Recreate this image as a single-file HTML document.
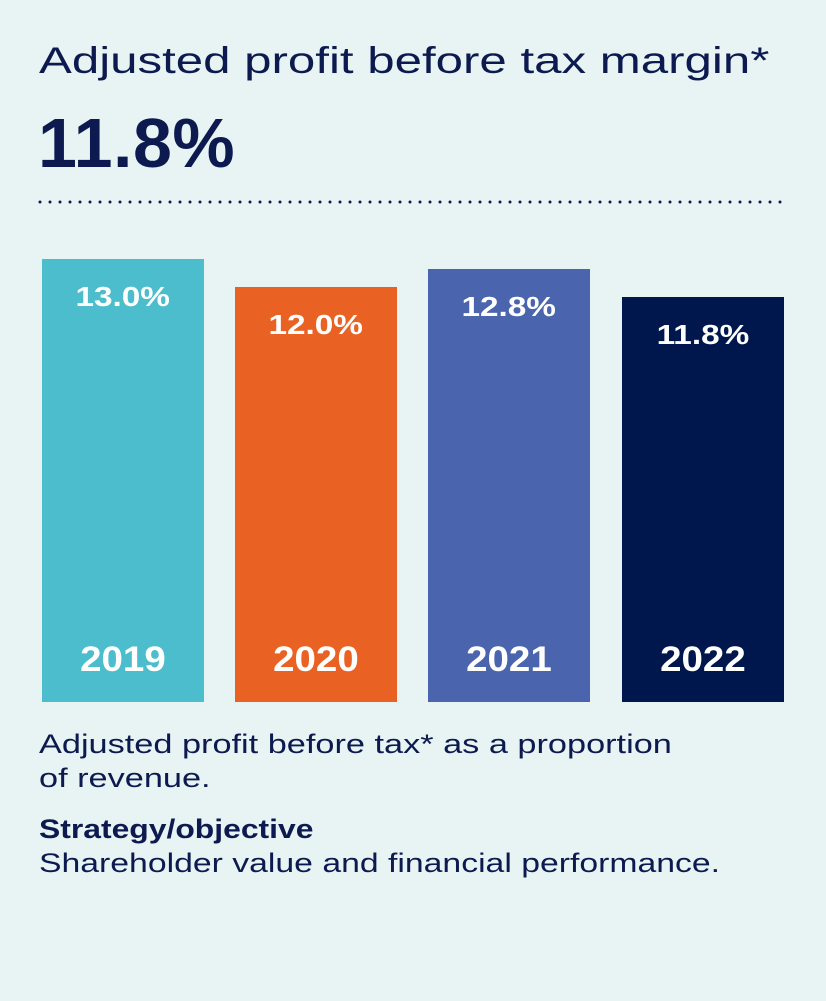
<!DOCTYPE html>
<html><head><style>
body{margin:0;width:826px;height:1001px;background:#e8f4f4;font-family:"Liberation Sans",sans-serif;color:#0d1a4f;position:relative;overflow:hidden}
.a{position:absolute;white-space:nowrap;transform-origin:0 0}
.bar{position:absolute;bottom:299px;width:162px;color:#fff;font-weight:bold;text-align:center}
.v{position:absolute;left:0;right:0;font-size:28px}
.v span{display:inline-block;transform:scaleX(1.19)}
.y{position:absolute;left:0;right:0;bottom:22px;font-size:35px}
.y span{display:inline-block;transform:scaleX(1.1)}
</style></head><body>
<div class="a" style="left:39px;top:40px;font-size:37px;transform:scaleX(1.33)">Adjusted profit before tax margin*</div>
<div class="a" style="left:38px;top:103px;font-size:70px;font-weight:bold;letter-spacing:0.5px">11.8%</div>
<svg class="a" style="left:0;top:196px" width="826" height="12"><line x1="40" y1="6" x2="785" y2="6" stroke="#0d1a4f" stroke-width="3" stroke-linecap="round" stroke-dasharray="0 10"/></svg>
<div class="bar" style="left:42px;top:259px;background:#4bbdcd"><div class="v" style="top:22px"><span>13.0%</span></div><div class="y"><span>2019</span></div></div>
<div class="bar" style="left:235px;top:287px;background:#ea6223"><div class="v" style="top:22px"><span>12.0%</span></div><div class="y"><span>2020</span></div></div>
<div class="bar" style="left:428px;top:269px;background:#4a64ad"><div class="v" style="top:22px"><span>12.8%</span></div><div class="y"><span>2021</span></div></div>
<div class="bar" style="left:622px;top:297px;background:#00174d"><div class="v" style="top:22px"><span>11.8%</span></div><div class="y"><span>2022</span></div></div>
<div class="a" style="left:39px;top:727px;font-size:27px;line-height:34px;transform:scaleX(1.27)">Adjusted profit before tax* as a proportion<br>of revenue.</div>
<div class="a" style="left:39px;top:812px;font-size:27px;line-height:34px;font-weight:bold;transform:scaleX(1.18)">Strategy/objective</div>
<div class="a" style="left:39px;top:846px;font-size:27px;line-height:34px;transform:scaleX(1.25)">Shareholder value and financial performance.</div>
</body></html>
